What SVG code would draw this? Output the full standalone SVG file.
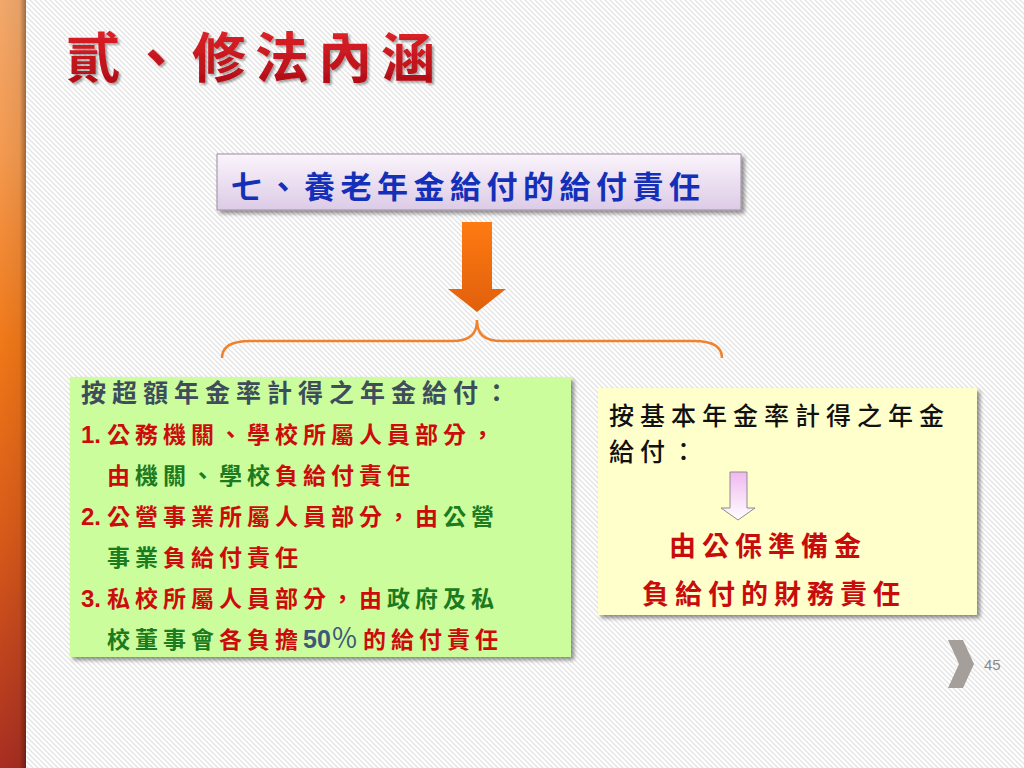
<svg xmlns="http://www.w3.org/2000/svg" width="1024" height="768" viewBox="0 0 1024 768">
<defs>
  <pattern id="stripes" width="5" height="5" patternUnits="userSpaceOnUse">
    <rect width="5" height="5" fill="#ffffff"/>
    <path d="M0,0 L5,5 M-1,4 L1,6 M4,-1 L6,1" stroke="#e4e4e4" stroke-width="1.3"/>
  </pattern>
  <linearGradient id="barV" x1="0" y1="0" x2="0" y2="1">
    <stop offset="0" stop-color="#f2a86c"/>
    <stop offset="0.2" stop-color="#f49a50"/>
    <stop offset="0.45" stop-color="#f07818"/>
    <stop offset="0.7" stop-color="#d85a1a"/>
    <stop offset="1" stop-color="#a82e22"/>
  </linearGradient>
  <linearGradient id="barH" x1="0" y1="0" x2="1" y2="0">
    <stop offset="0" stop-color="#000" stop-opacity="0"/>
    <stop offset="0.75" stop-color="#000" stop-opacity="0.05"/>
    <stop offset="1" stop-color="#000" stop-opacity="0.35"/>
  </linearGradient>
  <linearGradient id="titleGrad" x1="0" y1="0" x2="0" y2="1">
    <stop offset="0" stop-color="#e8282c"/>
    <stop offset="1" stop-color="#a80a14"/>
  </linearGradient>
  <linearGradient id="topBox" x1="0" y1="0" x2="0" y2="1">
    <stop offset="0" stop-color="#faf4fb"/>
    <stop offset="1" stop-color="#dccbe6"/>
  </linearGradient>
  <linearGradient id="orange" x1="0" y1="0" x2="0" y2="1">
    <stop offset="0" stop-color="#ff7a12"/>
    <stop offset="1" stop-color="#e0600c"/>
  </linearGradient>
  <linearGradient id="pink" x1="0" y1="0" x2="0" y2="1">
    <stop offset="0" stop-color="#f0b8f0"/>
    <stop offset="1" stop-color="#ffffff"/>
  </linearGradient>
  <filter id="shadow" x="-10%" y="-10%" width="125%" height="130%">
    <feGaussianBlur in="SourceAlpha" stdDeviation="2"/>
    <feOffset dx="3" dy="3" result="b"/>
    <feComponentTransfer><feFuncA type="linear" slope="0.45"/></feComponentTransfer>
    <feMerge><feMergeNode/><feMergeNode in="SourceGraphic"/></feMerge>
  </filter>
  <filter id="tshadow" x="-10%" y="-10%" width="120%" height="130%">
    <feGaussianBlur in="SourceAlpha" stdDeviation="1"/>
    <feOffset dx="1.5" dy="2"/>
    <feComponentTransfer><feFuncA type="linear" slope="0.35"/></feComponentTransfer>
    <feMerge><feMergeNode/><feMergeNode in="SourceGraphic"/></feMerge>
  </filter>
</defs>
<style>
  .cjk { font-family: "Noto Sans CJK TC", "Noto Sans CJK SC", sans-serif; }
  .num { font-family: "Liberation Sans", Arial, sans-serif; font-weight: bold; }
  .g1 { font-size: 23px; letter-spacing: 5px; font-weight: bold; }
  .red { fill: #cc0c0c; }
  .grn { fill: #1c7a20; }
  .slate { fill: #3e4c5c; }
</style>

<!-- background -->
<rect width="1024" height="768" fill="url(#stripes)"/>
<rect x="0" y="0" width="26" height="768" fill="url(#barV)"/>
<rect x="0" y="0" width="26" height="768" fill="url(#barH)"/>

<!-- title -->
<g id="title" filter="url(#tshadow)">
  <text class="cjk" x="66" y="78" font-size="54" font-weight="bold" letter-spacing="9" fill="url(#titleGrad)">貳、修法內涵</text>
</g>

<!-- header node -->
<g id="node-header">
  <rect x="217" y="154" width="524" height="56" fill="url(#topBox)" stroke="#9c8ca2" stroke-width="1" filter="url(#shadow)"/>
  <text class="cjk" x="231" y="198" font-size="31" font-weight="bold" letter-spacing="5.5" fill="#1530b8">七、養老年金給付的給付責任</text>
</g>

<!-- connectors -->
<g id="connectors">
  <path d="M462,222 L492,222 L492,289 L506,289 L477,312 L448,289 L462,289 Z" fill="url(#orange)"/>
  <path d="M222,358 C222,347 230,341 250,341 L452,341 C470,341 477,334 477,320 C477,334 484,341 502,341 L694,341 C714,341 722,347 722,358" fill="none" stroke="#f0822e" stroke-width="2.5"/>
</g>

<!-- left node -->
<g id="node-left">
  <rect x="70" y="377" width="501" height="280" fill="#ccfd9c" filter="url(#shadow)"/>
  <text class="cjk slate" x="81" y="402" font-size="25" font-weight="bold" letter-spacing="6">按超額年金率計得之年金給付：</text>
  <text class="num red" x="81" y="443" font-size="24">1.</text>
  <text class="cjk g1 red" x="107" y="443">公務機關、學校所屬人員部分，</text>
  <text class="cjk g1" x="107" y="484"><tspan class="red">由</tspan><tspan class="grn">機關、學校</tspan><tspan class="red">負給付責任</tspan></text>
  <text class="num red" x="81" y="525" font-size="24">2.</text>
  <text class="cjk g1" x="107" y="525"><tspan class="red">公營事業所屬人員部分，由</tspan><tspan class="grn">公營</tspan></text>
  <text class="cjk g1" x="107" y="566"><tspan class="grn">事業</tspan><tspan class="red">負給付責任</tspan></text>
  <text class="num red" x="81" y="607" font-size="24">3.</text>
  <text class="cjk g1" x="107" y="607"><tspan class="red">私校所屬人員部分，由</tspan><tspan class="grn">政府及私</tspan></text>
  <text class="cjk g1" x="107" y="648"><tspan class="grn">校董事會</tspan><tspan class="red">各負擔</tspan></text>
  <text class="num" x="303" y="648" font-size="25" fill="#3d5878">50</text>
  <text class="cjk" x="331" y="648" font-size="27" fill="#3d5878">％</text>
  <text class="cjk g1 red" x="363" y="648">的給付責任</text>
</g>

<!-- right node -->
<g id="node-right">
  <rect x="598" y="388" width="379" height="227" fill="#ffffcc" filter="url(#shadow)"/>
  <text class="cjk" x="609" y="425" font-size="25" font-weight="500" letter-spacing="6" fill="#111">按基本年金率計得之年金</text>
  <text class="cjk" x="609" y="461" font-size="25" font-weight="500" letter-spacing="6" fill="#111">給付：</text>
  <path d="M730,472 L747,472 L747,508 L755,508 L738,520 L721,508 L730,508 Z" fill="url(#pink)" stroke="#8c8c8c" stroke-width="1"/>
  <text class="cjk" x="669" y="556" font-size="27" font-weight="bold" letter-spacing="6" fill="#c80c0c">由公保準備金</text>
  <text class="cjk" x="642" y="604" font-size="27" font-weight="bold" letter-spacing="6" fill="#c80c0c">負給付的財務責任</text>
</g>

<!-- footer -->
<g id="footer">
  <path d="M948,640 L963,640 L974,664 L963,688 L948,688 L959,664 Z" fill="#a59f9b"/>
  <text x="984" y="670" font-family="Liberation Sans, Arial, sans-serif" font-size="15" fill="#8a8a8a">45</text>
</g>
</svg>
